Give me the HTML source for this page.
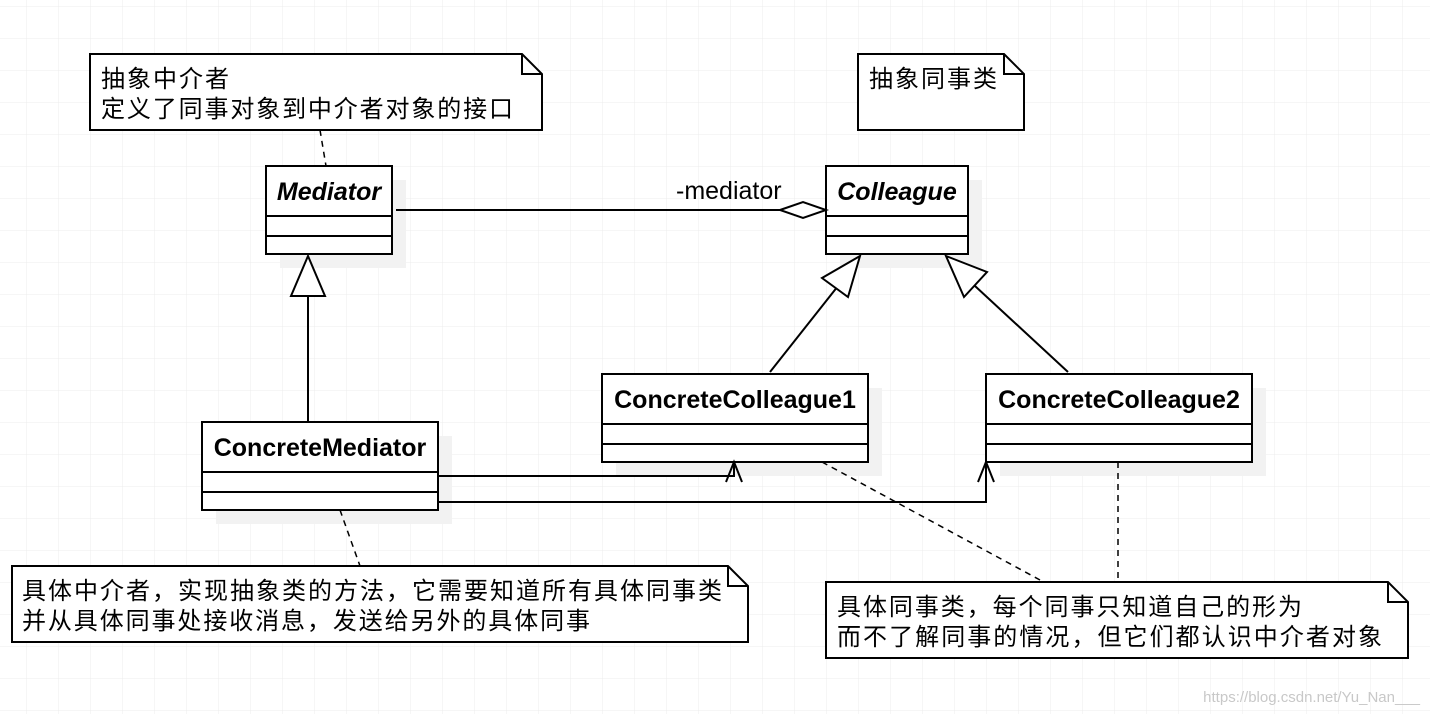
<!DOCTYPE html>
<html><head><meta charset="utf-8"><style>
html,body{margin:0;padding:0;background:#fff;}
svg{display:block;}
.t{font-family:"Liberation Sans","Noto Sans CJK SC",sans-serif;}
.c{font-size:24px;}
</style></head><body>
<svg width="1430" height="714" xmlns="http://www.w3.org/2000/svg">
<defs>
<pattern id="g" x="26" y="6" width="32" height="32" patternUnits="userSpaceOnUse">
<path d="M0 0H32M0 0V32" stroke="#ececec" stroke-width="1" fill="none"/>
</pattern>
</defs>
<rect width="1430" height="714" fill="url(#g)"/>
<g fill="#f2f2f2">
<rect x="280" y="180" width="126" height="88"/>
<rect x="840" y="180" width="142" height="88"/>
<rect x="216" y="436" width="236" height="88"/>
<rect x="616" y="388" width="266" height="88"/>
<rect x="1000" y="388" width="266" height="88"/>
</g>
<g stroke="#000" stroke-width="2" fill="#fff">
<rect x="266" y="166" width="126" height="88"/><path d="M266 216H392M266 236H392"/>
<rect x="826" y="166" width="142" height="88"/><path d="M826 216H968M826 236H968"/>
<rect x="202" y="422" width="236" height="88"/><path d="M202 472H438M202 492H438"/>
<rect x="602" y="374" width="266" height="88"/><path d="M602 424H868M602 444H868"/>
<rect x="986" y="374" width="266" height="88"/><path d="M986 424H1252M986 444H1252"/>
<path d="M90 54H522L542 74V130H90Z"/><path d="M522 54V74H542" fill="none"/>
<path d="M858 54H1004L1024 74V130H858Z"/><path d="M1004 54V74H1024" fill="none"/>
<path d="M12 566H728L748 586V642H12Z"/><path d="M728 566V586H748" fill="none"/>
<path d="M826 582H1388L1408 602V658H826Z"/><path d="M1388 582V602H1408" fill="none"/>
<path d="M396 210H780" fill="none"/>
<path d="M780 210L803 202L826 210L803 218Z"/>
<path d="M308 422V296" fill="none"/>
<path d="M308 256L291 296H325Z"/>
<path d="M770 372L838 286" fill="none"/>
<path d="M860 256L822 278L848 297Z"/>
<path d="M1068 372L975 286" fill="none"/>
<path d="M946 256L987 272L964 297Z"/>
<path d="M438 476H734V462M726 482L734 462L742 482" fill="none"/>
<path d="M438 502H986V462M978 482L986 462L994 482" fill="none"/>
</g>
<g stroke="#000" stroke-width="1.5" stroke-dasharray="6,5" fill="none">
<path d="M320 130L326 166"/>
<path d="M340 510L360 566"/>
<path d="M822 462L1040 580"/>
<path d="M1118 462V582"/>
</g>
<g class="t" fill="#000">
<text x="329" y="200" font-size="25" font-weight="bold" font-style="italic" text-anchor="middle">Mediator</text>
<text x="897" y="200" font-size="25" font-weight="bold" font-style="italic" text-anchor="middle">Colleague</text>
<text x="320" y="456" font-size="25" font-weight="bold" text-anchor="middle">ConcreteMediator</text>
<text x="735" y="408" font-size="25" font-weight="bold" text-anchor="middle">ConcreteColleague1</text>
<text x="1119" y="408" font-size="25" font-weight="bold" text-anchor="middle">ConcreteColleague2</text>
<text x="676" y="199" font-size="25">-mediator</text>
<text x="101" y="87" class="c" textLength="128" lengthAdjust="spacing">抽象中介者</text>
<text x="101" y="117" class="c" textLength="412" lengthAdjust="spacing">定义了同事对象到中介者对象的接口</text>
<text x="869" y="87" class="c" textLength="128" lengthAdjust="spacing">抽象同事类</text>
<text x="22" y="599" class="c" textLength="700" lengthAdjust="spacing">具体中介者，实现抽象类的方法，它需要知道所有具体同事类</text>
<text x="22" y="629" class="c" textLength="568" lengthAdjust="spacing">并从具体同事处接收消息，发送给另外的具体同事</text>
<text x="837" y="615" class="c" textLength="465" lengthAdjust="spacing">具体同事类，每个同事只知道自己的形为</text>
<text x="837" y="645" class="c" textLength="545" lengthAdjust="spacing">而不了解同事的情况，但它们都认识中介者对象</text>
<text x="1420" y="702" font-size="15" fill="#c8c8c8" text-anchor="end">https://blog.csdn.net/Yu_Nan___</text>
</g>
</svg>
</body></html>
